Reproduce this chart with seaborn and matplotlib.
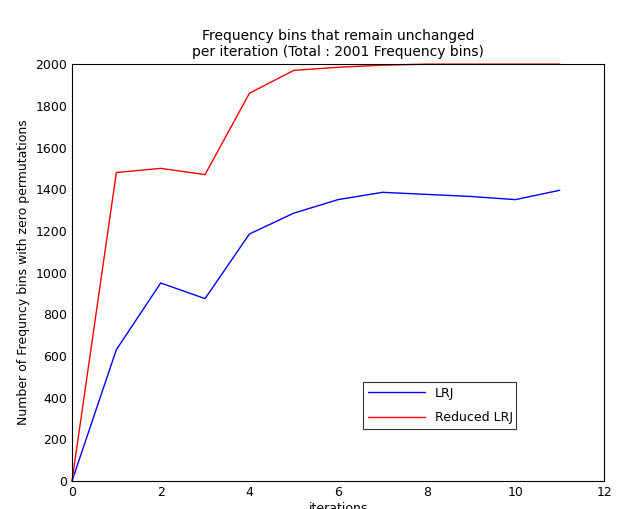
import matplotlib
matplotlib.use("Agg")
import matplotlib.pyplot as plt
import seaborn as sns
import pandas as pd

iterations = [0, 1, 2, 3, 4, 5, 6, 7, 8, 9, 10, 11]
lrj = [0, 630, 950, 875, 1185, 1285, 1350, 1385, 1375, 1365, 1350, 1395]
reduced_lrj = [0, 1480, 1500, 1470, 1860, 1970, 1985, 1995, 2000, 2000, 2000, 2000]

sns.set_style("white")
plt.rcParams['font.family'] = ['DejaVu Sans']
plt.rcParams['text.color'] = 'black'
fig = plt.figure(figsize=(6.4, 5.09), dpi=100)
ax = fig.add_axes([0.1125, 0.055, 0.8315, 0.819])
df = pd.DataFrame({"it": iterations, "LRJ": lrj, "Reduced LRJ": reduced_lrj})
sns.lineplot(data=df, x="it", y="LRJ", color="blue", lw=1, ax=ax, label="LRJ", clip_on=False)
sns.lineplot(data=df, x="it", y="Reduced LRJ", color="red", lw=1, ax=ax, label="Reduced LRJ", clip_on=False)
ax.set_xlim(0, 12)
ax.set_ylim(0, 2000)
ax.set_xticks(range(0, 13, 2))
ax.set_yticks(range(0, 2001, 200))
ax.tick_params(labelsize=9, direction="in", length=4, colors="black")
for s in ax.spines.values():
    s.set_color("black"); s.set_linewidth(0.8)
ax.set_xlabel("iterations", fontsize=9, labelpad=2, color="black")
ax.set_ylabel("Number of Frequncy bins with zero permutations", fontsize=9, color="black")
ax.set_title("Frequency bins that remain unchanged\nper iteration (Total : 2001 Frequency bins)", fontsize=10, color="black")
leg = ax.legend(loc="lower left", bbox_to_anchor=(0.536, 0.11, 0.31, 0.16), mode="expand",
                fontsize=9, frameon=True, fancybox=False, edgecolor="black", handlelength=4.5,
                labelspacing=0.9)
leg.get_frame().set_linewidth(0.8)
fig.savefig("out.png", dpi=100)
